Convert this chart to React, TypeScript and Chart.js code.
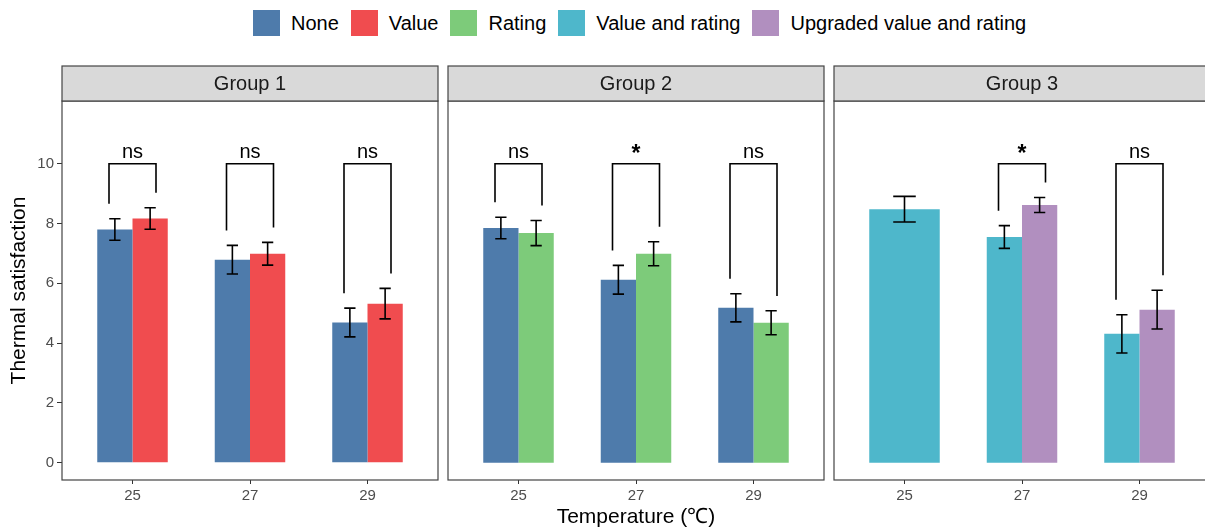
import React, { useEffect, useRef } from 'react';
import { Chart, registerables } from 'chart.js';

Chart.register(...registerables);

const FONT = "'Liberation Sans', Arial, sans-serif";
Chart.defaults.font.family = FONT;

// ---------- data ----------
const temperatures = ['25', '27', '29'];
const groupNames = ['Group 1', 'Group 2', 'Group 3'];
const seriesNames = ['None', 'Value', 'Rating', 'Value and rating', 'Upgraded value and rating'];
const seriesColors = ['#4E7BAB', '#F04C4F', '#7DCB7A', '#4EB7CB', '#B18FBF'];
const yTicks = [0, 2, 4, 6, 8, 10];
const yMin = -0.58;
const yMax = 12.1;

// Group 1
const g1None = [7.8, 6.79, 4.69];
const g1NoneSE = [0.36, 0.48, 0.48];
const g1Value = [8.17, 6.99, 5.32];
const g1ValueSE = [0.36, 0.38, 0.51];
const g1Sig = ['ns', 'ns', 'ns'];

// Group 2
const g2None = [7.85, 6.12, 5.18];
const g2NoneSE = [0.36, 0.48, 0.47];
const g2Rating = [7.68, 6.99, 4.68];
const g2RatingSE = [0.42, 0.4, 0.4];
const g2Sig = ['ns', '*', 'ns'];

// Group 3
const g3ValueRating = [8.48, 7.55, 4.31];
const g3ValueRatingSE = [0.43, 0.38, 0.64];
const g3Upgraded: (number | null)[] = [null, 8.62, 5.12];
const g3UpgradedSE: (number | null)[] = [null, 0.25, 0.65];
const g3Sig: (string | null)[] = [null, '*', 'ns'];

const bracketTop = 10;
const bracketTipGap = 0.5;
const bracketHalfWidth = 0.2;

type Series = { s: number; values: (number | null)[]; se: (number | null)[] };
type PanelDef = { title: string; series: Series[]; sig: (string | null)[]; left: number };

const panels: PanelDef[] = [
  { title: groupNames[0], series: [{ s: 0, values: g1None, se: g1NoneSE }, { s: 1, values: g1Value, se: g1ValueSE }], sig: g1Sig, left: 0 },
  { title: groupNames[1], series: [{ s: 0, values: g2None, se: g2NoneSE }, { s: 2, values: g2Rating, se: g2RatingSE }], sig: g2Sig, left: 444 },
  { title: groupNames[2], series: [{ s: 3, values: g3ValueRating, se: g3ValueRatingSE }, { s: 4, values: g3Upgraded, se: g3UpgradedSE }], sig: g3Sig, left: 830 },
];

const CANVAS_TOP = 60;
const CANVAS_H = 471;
const STRIP_H = 35;

function Panel({ def, index }: { def: PanelDef; index: number }) {
  const ref = useRef<HTMLCanvasElement | null>(null);
  const first = index === 0;
  const middle = index === 1;
  const width = first ? 442 : 384;

  useEffect(() => {
    if (!ref.current) return;
    const overlay = {
      id: 'facetOverlay',
      afterDatasetsDraw(chart: any) {
        const ctx = chart.ctx;
        const xs = chart.scales.x;
        const ys = chart.scales.y;
        ctx.save();
        // error bars
        ctx.strokeStyle = '#000';
        ctx.lineWidth = 1.6;
        def.series.forEach((ser, d) => {
          const meta = chart.getDatasetMeta(d);
          ser.values.forEach((v, i) => {
            const se = ser.se[i];
            if (v == null || se == null) return;
            const el: any = meta.data[i];
            if (!el) return;
            const cx = el.x;
            const cap = el.width * 0.32 / 2;
            const yT = ys.getPixelForValue(v + se);
            const yB = ys.getPixelForValue(v - se);
            ctx.beginPath();
            ctx.moveTo(cx, yT); ctx.lineTo(cx, yB);
            ctx.moveTo(cx - cap, yT); ctx.lineTo(cx + cap, yT);
            ctx.moveTo(cx - cap, yB); ctx.lineTo(cx + cap, yB);
            ctx.stroke();
          });
        });
        // significance brackets
        def.sig.forEach((label, i) => {
          if (label == null) return;
          const a = def.series[0], b = def.series[1];
          const va = a.values[i], vb = b.values[i];
          if (va == null || vb == null) return;
          const x1 = xs.getPixelForValue(i + 1 - bracketHalfWidth);
          const x2 = xs.getPixelForValue(i + 1 + bracketHalfWidth);
          const yTop = ys.getPixelForValue(bracketTop);
          const yL = ys.getPixelForValue(va + (a.se[i] || 0) + bracketTipGap);
          const yR = ys.getPixelForValue(vb + (b.se[i] || 0) + bracketTipGap);
          ctx.beginPath();
          ctx.moveTo(x1, yL); ctx.lineTo(x1, yTop); ctx.lineTo(x2, yTop); ctx.lineTo(x2, yR);
          ctx.stroke();
          ctx.fillStyle = '#000';
          const star = label === '*';
          ctx.font = star ? `bold 23px ${FONT}` : `20px ${FONT}`;
          ctx.textAlign = 'center';
          ctx.textBaseline = 'alphabetic';
          ctx.fillText(label, (x1 + x2) / 2, yTop - (star ? 3 : 6));
        });
        ctx.restore();
      },
      afterDraw(chart: any) {
        const ctx = chart.ctx;
        const { left, right, top, bottom } = chart.chartArea;
        ctx.save();
        ctx.strokeStyle = '#444';
        ctx.lineWidth = 1.2;
        ctx.strokeRect(left, top, right - left, bottom - top);
        // strip
        ctx.fillStyle = '#D9D9D9';
        ctx.fillRect(left, top - STRIP_H, right - left, STRIP_H);
        ctx.strokeRect(left, top - STRIP_H, right - left, STRIP_H);
        ctx.fillStyle = '#1A1A1A';
        ctx.font = `20px ${FONT}`;
        ctx.textAlign = 'center';
        ctx.textBaseline = 'middle';
        ctx.fillText(def.title, (left + right) / 2, top - STRIP_H / 2 + 1);
        ctx.restore();
      },
    };

    const chart = new Chart(ref.current, {
      type: 'bar',
      data: {
        datasets: def.series.map((ser) => ({
          label: seriesNames[ser.s],
          data: ser.values.map((v, i) => ({ x: i + 1, y: v })) as any,
          backgroundColor: seriesColors[ser.s],
          borderWidth: 0,
          categoryPercentage: 0.6,
          barPercentage: 1,
          skipNull: true,
        })),
      },
      options: {
        animation: false,
        responsive: false,
        events: [],
        layout: { padding: { top: 41, bottom: 0, left: first ? 0 : 4, right: 4 } },
        plugins: { legend: { display: false }, tooltip: { enabled: false } },
        scales: {
          x: {
            type: 'linear',
            min: 0.4,
            max: 3.6,
            offset: false,
            afterBuildTicks: (s: any) => { s.ticks = temperatures.map((_, i) => ({ value: i + 1 })); },
            afterFit: (s: any) => { s.height = 51; },
            ticks: {
              callback: (v: any) => temperatures[Number(v) - 1],
              color: '#4D4D4D',
              font: { size: 15 },
              padding: 3,
              maxRotation: 0,
              autoSkip: false,
            },
            grid: { display: true, drawOnChartArea: false, drawTicks: true, tickLength: 4, color: '#333', offset: false },
            border: { display: false },
            title: {
              display: middle,
              text: 'Temperature (℃)',
              color: '#000',
              font: { size: 21 },
              padding: { top: 0, bottom: 1 },
            },
          },
          y: {
            type: 'linear',
            display: first,
            min: yMin,
            max: yMax,
            afterBuildTicks: (s: any) => { s.ticks = yTicks.map((v) => ({ value: v })); },
            afterFit: (s: any) => { s.width = first ? 62 : 0; },
            ticks: { color: '#4D4D4D', font: { size: 15 }, padding: 3 },
            grid: { display: true, drawOnChartArea: false, drawTicks: true, tickLength: 5, color: '#333' },
            border: { display: false },
            title: {
              display: first,
              text: 'Thermal satisfaction',
              color: '#000',
              font: { size: 21 },
              padding: { top: 7, bottom: 0 },
            },
          },
        },
      } as any,
      plugins: [overlay],
    });
    return () => chart.destroy();
  }, []);

  return (
    <canvas
      ref={ref}
      width={width}
      height={CANVAS_H}
      style={{ position: 'absolute', left: def.left, top: CANVAS_TOP, width, height: CANVAS_H }}
    />
  );
}

function Legend() {
  return (
    <div
      style={{
        position: 'absolute',
        left: 253,
        top: 10,
        height: 26,
        display: 'flex',
        alignItems: 'center',
        fontFamily: FONT,
        fontSize: 20,
        color: '#000',
        whiteSpace: 'nowrap',
      }}
    >
      {seriesNames.map((n, i) => (
        <div key={n} style={{ display: 'flex', alignItems: 'center', marginRight: i < seriesNames.length - 1 ? 12 : 0 }}>
          <div style={{ width: 27, height: 26, background: seriesColors[i], marginRight: 11 }} />
          <span>{n}</span>
        </div>
      ))}
    </div>
  );
}

export default function App() {
  return (
    <div style={{ position: 'absolute', left: 0, top: 0, width: 1205, height: 531, overflow: 'hidden', background: '#fff' }}>
      <Legend />
      {panels.map((p, i) => (
        <Panel key={p.title} def={p} index={i} />
      ))}
    </div>
  );
}
